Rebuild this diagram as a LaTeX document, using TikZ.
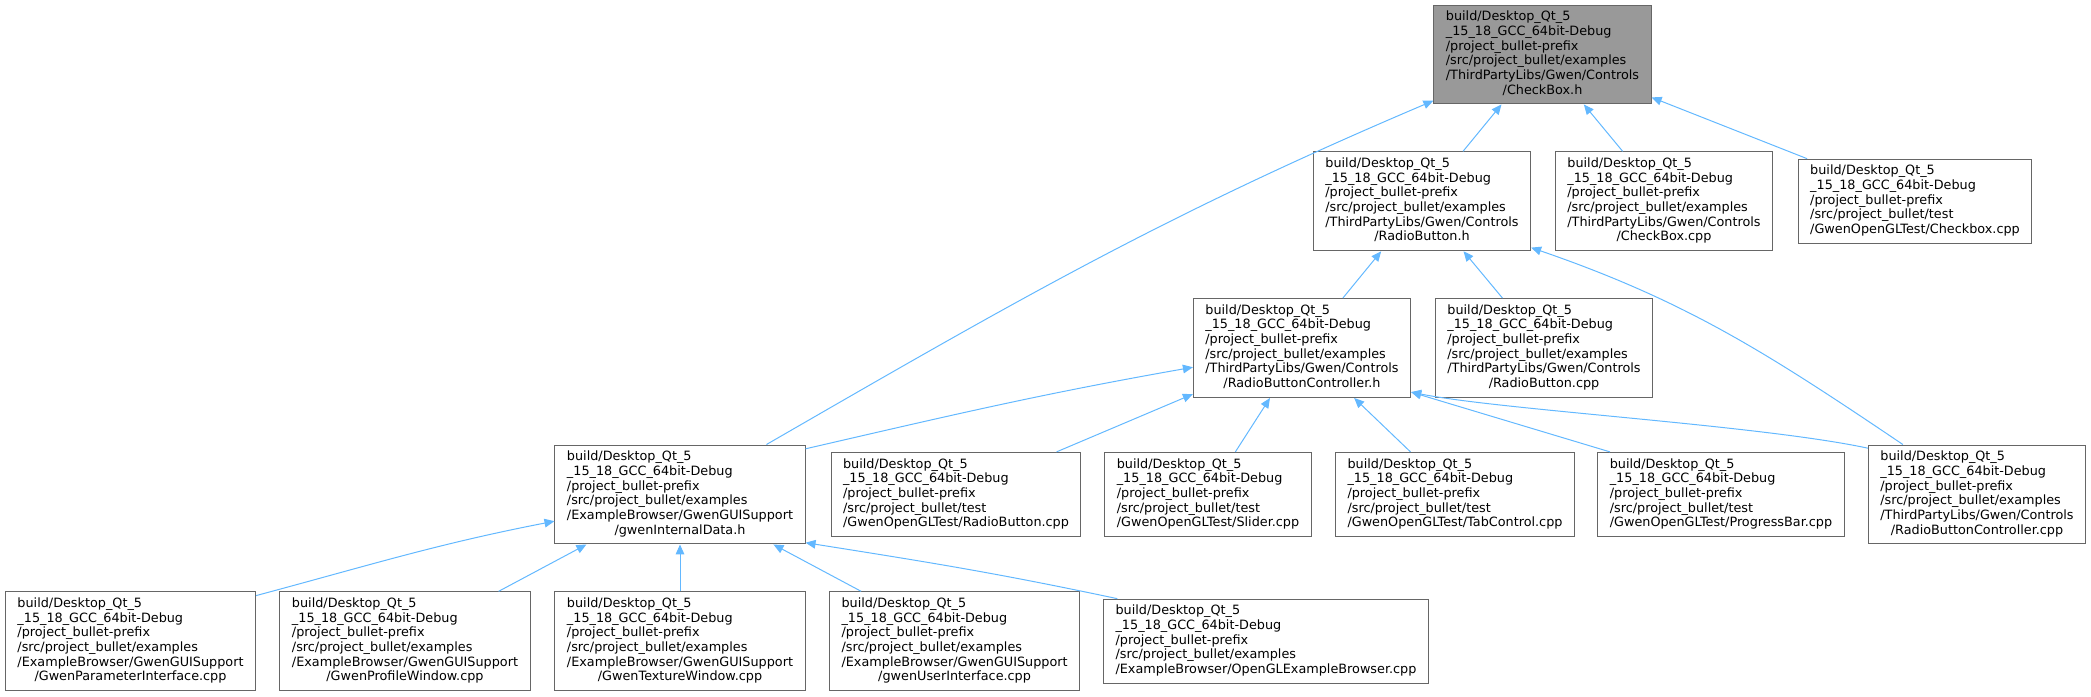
\documentclass[tikz,border=0pt]{standalone}
\usepackage{fontspec}
\setmainfont{DejaVu Sans}
\usetikzlibrary{arrows.meta}
\definecolor{edgeblue}{HTML}{63B8FF}
\definecolor{boxgray}{HTML}{666666}
\definecolor{rootgray}{HTML}{999999}
\newcommand{\dpre}{build/Desktop\_Qt\_5\\\_15\_18\_GCC\_64bit-Debug\\/project\_bullet-prefix}
\newcommand{\dsrc}[1]{/src/project\_bullet/#1}
\newcommand{\dgwen}{/ThirdPartyLibs/Gwen/Controls}
\newcommand{\dgui}{/ExampleBrowser/GwenGUISupport}
\newcommand{\flabel}[2]{\begin{tabular}{@{}l@{}}#1\\\multicolumn{1}{@{}c@{}}{#2}\end{tabular}}

\begin{document}
\begin{tikzpicture}[x=0.75pt, y=-0.75pt,
  file/.style={draw=boxgray, fill=white, line width=0.75pt, inner xsep=9pt,
    inner ysep=4.1pt, font=\fontsize{9.6}{11}\selectfont},
  edge/.style={draw=edgeblue, line width=0.75pt,
    -{Triangle[length=7.5pt, width=6.5pt]}}]
  \useasboundingbox (0,0) rectangle (2091,696);
  % --- rank 0: the header itself ---
  \node[file, fill=rootgray] (chkh) at (1542.5,54.5)
    {\flabel{\dpre\\\dsrc{examples}\\\dgwen}{/CheckBox.h}};
  % --- rank 1 ---
  \node[file] (rbh) at (1422,201.3)
    {\flabel{\dpre\\\dsrc{examples}\\\dgwen}{/RadioButton.h}};
  \node[file] (chkcpp) at (1664,201.3)
    {\flabel{\dpre\\\dsrc{examples}\\\dgwen}{/CheckBox.cpp}};
  \node[file] (chktest) at (1915,201.3)
    {\flabel{\dpre\\\dsrc{test}}{/GwenOpenGLTest/Checkbox.cpp}};
  % --- rank 2 ---
  \node[file] (rbch) at (1302,348)
    {\flabel{\dpre\\\dsrc{examples}\\\dgwen}{/RadioButtonController.h}};
  \node[file] (rbcpp) at (1544,348)
    {\flabel{\dpre\\\dsrc{examples}\\\dgwen}{/RadioButton.cpp}};
  % --- rank 3 ---
  \node[file] (gid) at (680,494.5)
    {\flabel{\dpre\\\dsrc{examples}\\\dgui}{/gwenInternalData.h}};
  \node[file] (rbtest) at (956,494.5)
    {\flabel{\dpre\\\dsrc{test}}{/GwenOpenGLTest/RadioButton.cpp}};
  \node[file] (slider) at (1208,494.5)
    {\flabel{\dpre\\\dsrc{test}}{/GwenOpenGLTest/Slider.cpp}};
  \node[file] (tabctl) at (1455,494.5)
    {\flabel{\dpre\\\dsrc{test}}{/GwenOpenGLTest/TabControl.cpp}};
  \node[file] (progbar) at (1721,494.5)
    {\flabel{\dpre\\\dsrc{test}}{/GwenOpenGLTest/ProgressBar.cpp}};
  \node[file] (rbccpp) at (1977,494.5)
    {\flabel{\dpre\\\dsrc{examples}\\\dgwen}{/RadioButtonController.cpp}};
  % --- rank 4 ---
  \node[file] (gpi) at (130.5,641.3)
    {\flabel{\dpre\\\dsrc{examples}\\\dgui}{/GwenParameterInterface.cpp}};
  \node[file] (gpw) at (405,641.3)
    {\flabel{\dpre\\\dsrc{examples}\\\dgui}{/GwenProfileWindow.cpp}};
  \node[file] (gtw) at (680,641.3)
    {\flabel{\dpre\\\dsrc{examples}\\\dgui}{/GwenTextureWindow.cpp}};
  \node[file] (gui) at (954.6,641.3)
    {\flabel{\dpre\\\dsrc{examples}\\\dgui}{/gwenUserInterface.cpp}};
  \node[file] (ogl) at (1266,641.3)
    {\flabel{\dpre\\\dsrc{examples}}{/ExampleBrowser/OpenGLExampleBrowser.cpp}};
  % --- includes of CheckBox.h ---
  \draw[edge] (gid) to[out=30, in=203] (chkh);
  \draw[edge] (rbh) -- (chkh);
  \draw[edge] (chkcpp) -- (chkh);
  \draw[edge] (chktest) -- (chkh);
  % --- includes of RadioButton.h ---
  \draw[edge] (rbch) -- (rbh);
  \draw[edge] (rbcpp) -- (rbh);
  \draw[edge] (rbccpp.146) to[out=146, in=-19] (rbh.-23);
  % --- includes of RadioButtonController.h ---
  \draw[edge] (gid.20) to[out=13, in=190] (rbch.190);
  \draw[edge] (rbtest) -- (rbch);
  \draw[edge] (slider) -- (rbch);
  \draw[edge] (tabctl) -- (rbch);
  \draw[edge] (progbar.159) -- (rbch.-22);
  \draw[edge] (rbccpp.157) .. controls (1760,425) and (1500,410) .. (rbch.-22);
  % --- includes of gwenInternalData.h ---
  \draw[edge] (gpi.20) to[out=15, in=191] (gid.192);
  \draw[edge] (gpw) -- (gid);
  \draw[edge] (gtw) -- (gid);
  \draw[edge] (gui) -- (gid);
  \draw[edge] (ogl.164) to[out=168, in=-9] (gid.-21);
\end{tikzpicture}
\end{document}
